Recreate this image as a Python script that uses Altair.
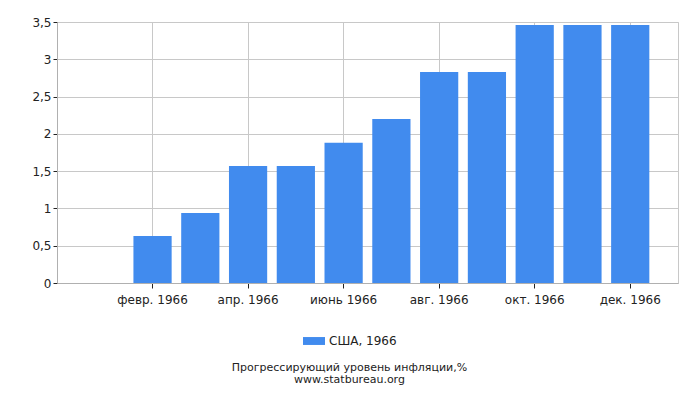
import altair as alt
import pandas as pd

months = ["янв. 1966", "февр. 1966", "март 1966", "апр. 1966", "май 1966", "июнь 1966",
          "июль 1966", "авг. 1966", "сент. 1966", "окт. 1966", "нояб. 1966", "дек. 1966"]
values = [0.0, 0.63, 0.94, 1.57, 1.57, 1.88, 2.20, 2.83, 2.83, 3.46, 3.46, 3.46]
series = ["США, 1966"] * 12
label_months = months[1::2]

df = pd.DataFrame({"month": months, "value": values, "series": series})

FONT = "DejaVu Sans"

bars = alt.Chart(df).mark_bar(color="#418bee").encode(
    x=alt.X("month:N", sort=months,
            scale=alt.Scale(paddingInner=0.2, paddingOuter=0.6),
            axis=alt.Axis(values=label_months, title=None, labelAngle=0,
                          labelFont=FONT, labelFontSize=12, labelColor="#222",
                          domainColor="#b0b0b0", tickColor="#222", tickSize=5,
                          gridColor="#c8c8c8", grid=True, labelPadding=6)),
    y=alt.Y("value:Q",
            scale=alt.Scale(domain=[0, 3.5], nice=False),
            axis=alt.Axis(values=[0, 0.5, 1, 1.5, 2, 2.5, 3, 3.5], title=None,
                          labelExpr="replace(toString(datum.value), '.', ',')",
                          labelFont=FONT, labelFontSize=12, labelColor="#222",
                          domainColor="#b0b0b0", tickColor="#222", tickSize=4,
                          gridColor="#c8c8c8", labelPadding=2)),
    color=alt.Color("series:N",
                    scale=alt.Scale(range=["#418bee"]),
                    legend=alt.Legend(title=None, orient="none", legendX=246, legendY=308,
                                      symbolType="M-1,-0.36L1,-0.36L1,0.36L-1,0.36Z",
                                      symbolSize=484, symbolStrokeWidth=0,
                                      labelFont=FONT, labelFontSize=12, labelColor="#222")),
)

chart = bars.properties(
    width=621, height=261,
    padding={"left": 49, "top": 14, "right": 14, "bottom": 110},
    autosize="none",
    title=alt.Title("Прогрессирующий уровень инфляции,%",
                    subtitle="www.statbureau.org",
                    orient="bottom", anchor="middle", dx=-18, offset=15,
                    font=FONT, fontSize=11, fontWeight="normal", color="#222",
                    subtitleFont=FONT, subtitleFontSize=11, subtitleColor="#222",
                    subtitlePadding=1, lineHeight=11, subtitleLineHeight=11),
).configure_view(stroke="#c8c8c8")

chart.save("out.html", embed_options={"renderer": "svg", "actions": False})
